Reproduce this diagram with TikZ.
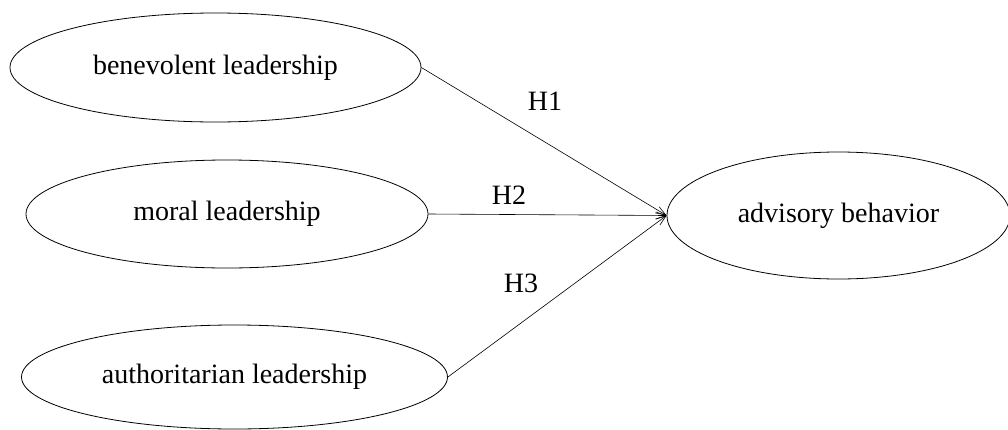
\documentclass[tikz,border=0pt]{standalone}
\usepackage{fontspec}
\setmainfont{Liberation Serif}
\usetikzlibrary{shapes.geometric,arrows.meta}
\begin{document}
\begin{tikzpicture}[x=0.5pt,y=-0.5pt,
  ell/.style={draw,ellipse,inner sep=0pt,line width=0.4pt,font=\fontsize{14}{16}\selectfont},
  link/.style={draw,line width=0.3pt,-{Straight Barb[length=5pt,width=3.6pt,line width=0.3pt]}},
  lbl/.style={font=\fontsize{14}{16}\selectfont,inner sep=0pt}]
\useasboundingbox (0,0) rectangle (1008,429);
\node[ell,minimum width=205.5pt,minimum height=54.5pt] (ben) at (215.5,67.5) {benevolent leadership};
\node[ell,minimum width=201pt,minimum height=54pt] (mor) at (227,214) {moral leadership};
\node[ell,minimum width=213pt,minimum height=52pt] (aut) at (234.5,377) {authoritarian leadership};
\node[ell,minimum width=171.5pt,minimum height=63.5pt] (adv) at (838.5,215.5) {advisory behavior};
\draw[link] (ben.east) -- (adv.west);
\draw[link] (mor.east) -- (adv.west);
\draw[link] (aut.east) -- (adv.west);
\node[lbl] (h1) at (545,101) {H1};
\node[lbl] (h2) at (509,195) {H2};
\node[lbl] (h3) at (521,283) {H3};
\end{tikzpicture}
\end{document}
